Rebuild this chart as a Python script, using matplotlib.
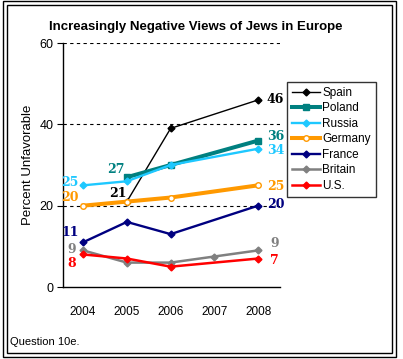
import numpy as np
import matplotlib
matplotlib.use("Agg")
import matplotlib.pyplot as plt
from matplotlib.lines import Line2D
import matplotlib.patches as patches

# data
years = [2004, 2005, 2006, 2007, 2008]
countries = ["Spain", "Poland", "Russia", "Germany", "France", "Britain", "U.S."]
spain = [np.nan, 21, 39, np.nan, 46]
poland = [np.nan, 27, 30, np.nan, 36]
russia = [25, 26, 30, np.nan, 34]
germany = [20, 21, 22, np.nan, 25]
france = [11, 16, 13, np.nan, 20]
britain = [9, 6, 6, 7.5, 9]
us = [8, 7, 5, np.nan, 7]

series = [spain, poland, russia, germany, france, britain, us]
colors = ["#000000", "#008080", "#1ec8ff", "#ff9900", "#000080", "#808080", "#ff0000"]
widths = [1.0, 2.9, 1.7, 2.9, 1.7, 1.8, 1.8]
markers = ["D", "s", "D", "o", "D", "D", "D"]
msizes = [3.5, 4.5, 3.5, 4, 3.5, 3.5, 3.5]

sans = "Liberation Sans"
fig = plt.figure(figsize=(4.03, 3.59), dpi=100)
W, H = 403, 359

# double border
for (x0, y0, x1, y1) in [(3, 1, 396, 357), (7, 5, 392, 353)]:
    fig.add_artist(patches.Rectangle((x0 / W, 1 - y1 / H), (x1 - x0) / W, (y1 - y0) / H,
                                     transform=fig.transFigure, fill=False,
                                     edgecolor="black", linewidth=1.0))

ax = fig.add_axes([63 / W, 1 - 287 / H, 217 / W, 244 / H])
ax.set_xlim(2003.54, 2008.5)
ax.set_ylim(0, 60)

for yv in [20, 40, 60]:
    ax.axhline(yv, color="black", linestyle=(0, (3, 3)), linewidth=0.8, zorder=1)

x = np.array(years, dtype=float)
for name, vals, c, lw, m, ms in zip(countries, series, colors, widths, markers, msizes):
    v = np.array(vals, dtype=float)
    ok = ~np.isnan(v)
    face = "white" if name == "Germany" else c
    ax.plot(x[ok], v[ok], color=c, linewidth=lw, marker=m, markersize=ms,
            markerfacecolor=face, markeredgecolor=c, markeredgewidth=1, zorder=3)

# value labels
lab = dict(fontsize=9, fontweight="bold", family="DejaVu Serif", va="center")
ax.text(2008.2, 46, "46", color=colors[0], ha="left", **lab)
ax.text(2008.2, 36.9, "36", color=colors[1], ha="left", **lab)
ax.text(2008.2, 33.6, "34", color=colors[2], ha="left", **lab)
ax.text(2008.2, 24.6, "25", color=colors[3], ha="left", **lab)
ax.text(2008.2, 20.3, "20", color=colors[4], ha="left", **lab)
ax.text(2008.28, 10.8, "9", color=colors[5], ha="left", **lab)
ax.text(2008.28, 6.4, "7", color=colors[6], ha="left", **lab)
ax.text(2003.9, 25.8, "25", color=colors[2], ha="right", **lab)
ax.text(2003.9, 22.1, "20", color=colors[3], ha="right", **lab)
ax.text(2003.9, 13.3, "11", color=colors[4], ha="right", **lab)
ax.text(2003.83, 9.3, "9", color=colors[5], ha="right", **lab)
ax.text(2003.83, 5.9, "8", color=colors[6], ha="right", **lab)
ax.text(2004.96, 28.8, "27", color=colors[1], ha="right", **lab)
ax.text(2005.0, 23.1, "21", color=colors[0], ha="right", **lab)

ax.set_xticks(years)
ax.set_xticklabels([str(y) for y in years], fontsize=8.5, family=sans)
ax.tick_params(axis="x", length=0, pad=14)
ax.set_yticks([0, 20, 40, 60])
ax.set_yticklabels(["0", "20", "40", "60"], fontsize=9, family=sans)
ax.tick_params(axis="y", length=4, direction="out", pad=3)
ax.set_ylabel("Percent Unfavorable", fontsize=9.5, family=sans, labelpad=4)
for s in ["top", "right"]:
    ax.spines[s].set_visible(False)
ax.spines["left"].set_linewidth(1.0)
ax.spines["bottom"].set_linewidth(1.0)

fig.text(196 / W, 1 - 27 / H, "Increasingly Negative Views of Jews in Europe",
         ha="center", va="center", fontsize=9.5, fontweight="bold", family=sans)
fig.text(10 / W, 1 - 342 / H, "Question 10e.", ha="left", va="center", fontsize=8, family=sans)

handles = []
for name, c, lw, m, ms in zip(countries, colors, widths, markers, msizes):
    face = "white" if name == "Germany" else c
    handles.append(Line2D([], [], color=c, linewidth=lw, marker=m, markersize=ms,
                          markerfacecolor=face, markeredgecolor=c))
leg = fig.legend(handles, countries, loc="upper left",
                 bbox_to_anchor=(287 / W, 1 - 82 / H),
                 prop={"family": sans, "size": 8.5},
                 frameon=True, fancybox=False, handlelength=2.4, handletextpad=0.2,
                 labelspacing=0.3, borderpad=0.4, borderaxespad=0)
leg.get_frame().set_edgecolor("black")
leg.get_frame().set_linewidth(1.0)

fig.savefig("out.png", dpi=100)
